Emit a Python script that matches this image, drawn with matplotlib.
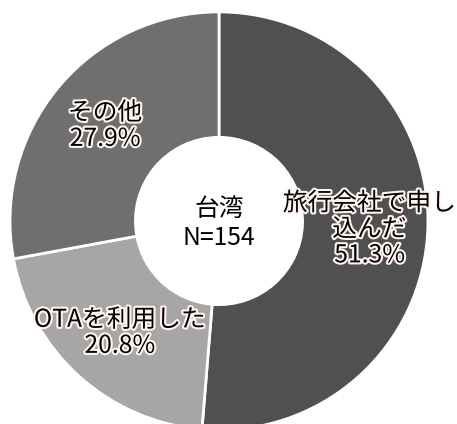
import matplotlib
matplotlib.use("Agg")
import matplotlib.pyplot as plt
import matplotlib.patheffects as pe

plt.rcParams['font.family'] = ['Noto Sans CJK JP', 'DejaVu Sans']

# data
labels = ['旅行会社で申し\n込んだ', 'OTAを利用した', 'その他']
values = [51.3, 20.8, 27.9]
colors = ['#505050', '#a6a6a6', '#6f6f6f']
center_text = '台湾\nN=154'

# label anchor positions (data units, radius 1)
label_pos = [(0.72, -0.04), (-0.475, -0.535), (-0.545, 0.455)]

fig = plt.figure(figsize=(4.57, 4.24), dpi=100)
ax = fig.add_axes([0, 0, 1, 1])

wedges, _ = ax.pie(values, colors=colors, startangle=90, counterclock=False,
                   radius=1.0, wedgeprops=dict(width=0.6, edgecolor='white', linewidth=2))

glow = [pe.withStroke(linewidth=3, foreground='#fff4f0')]
for lab, v, (x, y) in zip(labels, values, label_pos):
    ax.text(x, y, f'{lab}\n{v:.1f}%', ha='center', va='center', fontsize=17.8,
            linespacing=1.0, color='black', path_effects=glow)

ax.text(0, -0.01, center_text, ha='center', va='center', fontsize=17.8,
        linespacing=1.15, color='black')

ax.set_xlim(-1.048, 1.139)
ax.set_ylim(-0.971, 1.057)
ax.set_aspect('auto')
ax.axis('off')

fig.savefig('out.png', dpi=100)
